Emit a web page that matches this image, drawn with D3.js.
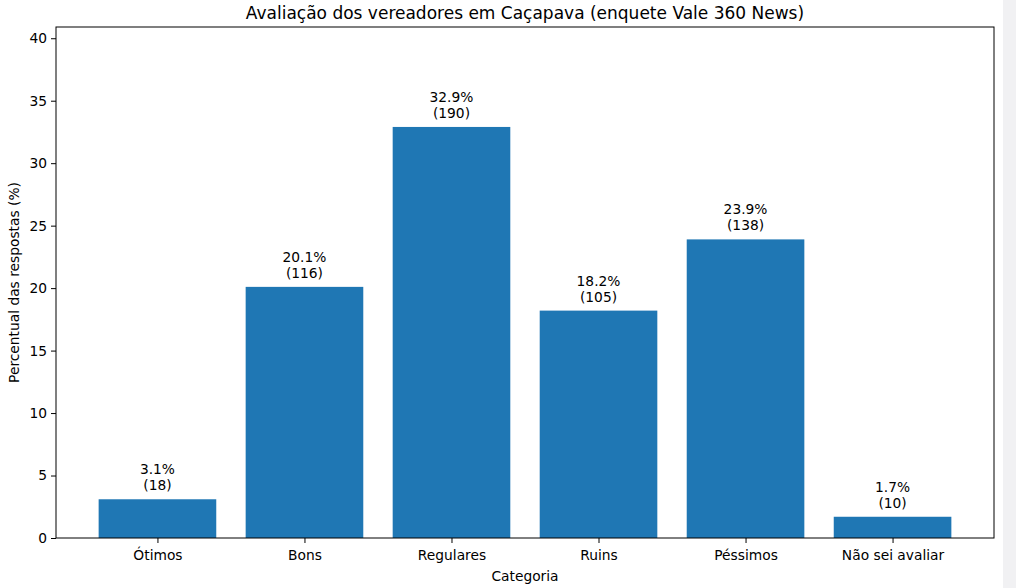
<!DOCTYPE html>
<html><head><meta charset="utf-8">
<script src="https://cdn.jsdelivr.net/npm/d3@7/dist/d3.min.js"></script>
<style>
body{margin:0;background:#fff;}
svg{display:block;font-family:"DejaVu Sans",sans-serif;}
</style></head>
<body><svg id="c" width="1016" height="588"></svg>
<script>
const categories = ["Ótimos","Bons","Regulares","Ruins","Péssimos","Não sei avaliar"];
const counts = [18,116,190,105,138,10];
const percents = [3.1,20.1,32.9,18.2,23.9,1.7];
const yTicks = [0,5,10,15,20,25,30,35,40];
const yMax = 40.9;

const svg = d3.select("#c");
const m = {l:56, r:994, t:27, b:538};
const fs = "13.8px";

// light strip at right edge
svg.append("rect").attr("x",1003).attr("y",0).attr("width",13).attr("height",588).attr("fill","#f1f1f3");

const x = d3.scaleLinear().domain([-0.69, 5.69]).range([m.l, m.r]);
const y = d3.scaleLinear().domain([0, yMax]).range([m.b, m.t]);
const bw = x(0.8) - x(0);

const g = svg.append("g");
g.selectAll("rect.bar").data(categories).join("rect")
  .attr("class","bar")
  .attr("x",(d,i)=>x(i)-bw/2)
  .attr("width",bw)
  .attr("y",(d,i)=>y(percents[i]))
  .attr("height",(d,i)=>y(0)-y(percents[i]))
  .attr("fill","#1f77b4");

// value labels
const lab = g.selectAll("text.val").data(categories).join("text")
  .attr("class","val")
  .attr("text-anchor","middle")
  .attr("font-size",fs)
  .attr("fill","#000");
lab.append("tspan").attr("x",(d,i)=>x(i)).attr("y",(d,i)=>y(percents[i])-25).text((d,i)=>percents[i].toFixed(1)+"%");
lab.append("tspan").attr("x",(d,i)=>x(i)).attr("y",(d,i)=>y(percents[i])-9).text((d,i)=>"("+counts[i]+")");

// axes
const yAxis = d3.axisLeft(y).tickValues(yTicks).tickSize(5).tickPadding(4).tickFormat(d3.format("d"));
const ya = svg.append("g").attr("transform",`translate(${m.l},0)`).call(yAxis);
const xAxis = d3.axisBottom(x).tickValues(d3.range(categories.length)).tickSize(5).tickPadding(7).tickFormat(i=>categories[i]);
const xa = svg.append("g").attr("transform",`translate(0,${m.b})`).call(xAxis);
[ya,xa].forEach(a=>{
  a.select(".domain").remove();
  a.selectAll("text").attr("font-size",fs).attr("fill","#000").attr("font-family","DejaVu Sans");
  a.selectAll("line").attr("stroke","#000");
});

// frame
svg.append("rect").attr("x",m.l).attr("y",m.t).attr("width",m.r-m.l).attr("height",m.b-m.t)
  .attr("fill","none").attr("stroke","#000").attr("stroke-width",1);

// title & labels
svg.append("text").attr("x",(m.l+m.r)/2).attr("y",19).attr("text-anchor","middle")
  .attr("font-size","17px").attr("fill","#000").text("Avaliação dos vereadores em Caçapava (enquete Vale 360 News)");
svg.append("text").attr("x",(m.l+m.r)/2).attr("y",581).attr("text-anchor","middle")
  .attr("font-size",fs).attr("fill","#000").text("Categoria");
svg.append("text").attr("transform",`translate(19,${(m.t+m.b)/2}) rotate(-90)`).attr("text-anchor","middle")
  .attr("font-size",fs).attr("fill","#000").text("Percentual das respostas (%)");
</script></body></html>
